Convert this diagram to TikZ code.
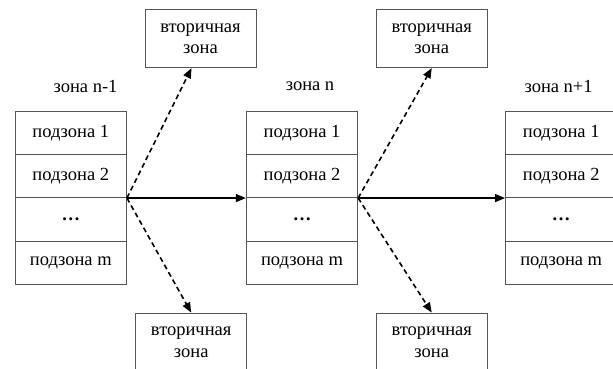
\documentclass[tikz,border=0pt]{standalone}
\usepackage{fontspec}
\setmainfont{Liberation Serif}
\usetikzlibrary{arrows.meta,calc}
\definecolor{boxgray}{HTML}{555555}
\tikzset{
  cell/.style={rectangle, draw=boxgray, line width=0.8pt, minimum width=111.5pt,
    minimum height=43.3pt, inner sep=0pt, font=\fontsize{18.5}{20}\selectfont},
  second/.style={rectangle, draw=boxgray, line width=0.8pt, minimum width=111pt,
    minimum height=58.4pt, inner sep=0pt, align=center,
    font=\fontsize{18.5}{21.5}\selectfont},
  zlabel/.style={font=\fontsize{18.5}{20}\selectfont, inner sep=0pt},
  flow/.style={line width=1.4pt, -{Triangle[length=10pt,width=8pt]}},
  branch/.style={line width=1.6pt, dash pattern=on 5pt off 3.5pt,
    -{Triangle[length=10pt,width=8pt]}}
}
\begin{document}
\begin{tikzpicture}[x=1pt,y=-1pt]
\useasboundingbox (0,0) rectangle (613,369);
\clip (0,0) rectangle (613,369);

% zones with their subzones
\foreach \z/\cx in {1/70.8, 2/302, 3/561.2}{
  \node[cell] (z\z-1) at (\cx,132.7) {подзона 1};
  \node[cell] (z\z-2) at (\cx,176.0) {подзона 2};
  \node[cell] (z\z-3) at (\cx,219.3) {\textbf{…}};
  \node[cell] (z\z-4) at (\cx,262.6) {подзона m};
}

% zone captions
\node[zlabel] (l1) at (85.5,86) {зона n-1};
\node[zlabel] (l2) at (310,86) {зона n};
\node[zlabel] (l3) at (558.6,86) {зона n+1};

% secondary zones
\node[second] (s1t) at (200.5,38.5) {вторичная\\зона};
\node[second] (s1b) at (191.2,342.2) {вторичная\\зона};
\node[second] (s2t) at (431.75,38.5) {вторичная\\зона};
\node[second] (s2b) at (431.75,342.2) {вторичная\\зона};

% flow between zones
\draw[flow] (z1-2.south east) -- (z2-2.south west);
\draw[flow] (z2-2.south east) -- (z3-2.south west);

% branches to secondary zones
\coordinate (t1) at ($(s1t.south)+(-9,0)$);
\draw[branch] (z1-2.south east) -- (t1);
\draw[branch] (z1-2.south east) -- (s1b.north);
\draw[branch] (z2-2.south east) -- (s2t.south);
\draw[branch] (z2-2.south east) -- (s2b.north);
\end{tikzpicture}
\end{document}
